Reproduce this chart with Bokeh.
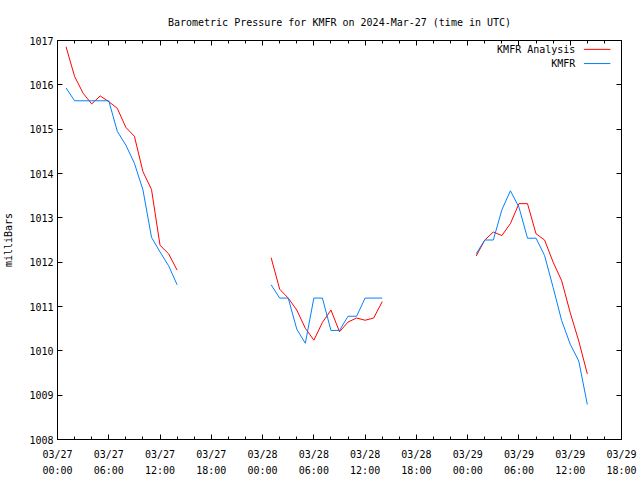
import math
from bokeh.plotting import figure
from bokeh.models import LinearAxis, FixedTicker, Label, Arrow, Range1d
from bokeh.embed import file_html
from bokeh.resources import INLINE

# hours since 2024-03-27 00:00 UTC
hours_seg1 = list(range(1, 15))
hours_seg2 = list(range(25, 39))
hours_seg3 = list(range(49, 63))

analysis_seg1 = [1016.86, 1016.19, 1015.81, 1015.57, 1015.75, 1015.62, 1015.47,
                 1015.04, 1014.84, 1014.04, 1013.64, 1012.38, 1012.19, 1011.82]
analysis_seg2 = [1012.10, 1011.39, 1011.19, 1010.92, 1010.51, 1010.24, 1010.64,
                 1010.92, 1010.43, 1010.65, 1010.74, 1010.69, 1010.74, 1011.11]
analysis_seg3 = [1012.14, 1012.50, 1012.68, 1012.60, 1012.87, 1013.32, 1013.32,
                 1012.64, 1012.50, 1012.00, 1011.58, 1010.86, 1010.22, 1009.48]

obs_seg1 = [1015.93, 1015.64, 1015.64, 1015.64, 1015.64, 1015.64, 1014.95,
            1014.64, 1014.23, 1013.63, 1012.56, 1012.23, 1011.92, 1011.49]
obs_seg2 = [1011.49, 1011.19, 1011.19, 1010.49, 1010.17, 1011.19, 1011.19,
            1010.46, 1010.46, 1010.78, 1010.78, 1011.19, 1011.19, 1011.19]
obs_seg3 = [1012.19, 1012.50, 1012.50, 1013.18, 1013.61, 1013.24, 1012.54,
            1012.54, 1012.15, 1011.43, 1010.68, 1010.15, 1009.77, 1008.79]

tick_hours = list(range(0, 67, 6))
tick_labels = ["03/27\n00:00", "03/27\n06:00", "03/27\n12:00", "03/27\n18:00",
               "03/28\n00:00", "03/28\n06:00", "03/28\n12:00", "03/28\n18:00",
               "03/29\n00:00", "03/29\n06:00", "03/29\n12:00", "03/29\n18:00"]
y_ticks = list(range(1008, 1018))

title_text = "Barometric Pressure for KMFR on 2024-Mar-27 (time in UTC)"
series_names = ["KMFR Analysis", "KMFR"]
series_colors = ["#ff0000", "#0080ff"]

FONT = "DejaVu Sans Mono"
FS = "10px"


def join(segs):
    out = []
    for i, s in enumerate(segs):
        if i:
            out.append(float("nan"))
        out.extend(s)
    return out


hx = join([hours_seg1, hours_seg2, hours_seg3])
ana = join([analysis_seg1, analysis_seg2, analysis_seg3])
obs = join([obs_seg1, obs_seg2, obs_seg3])

p = figure(width=640, height=480, output_backend="svg", toolbar_location=None,
           x_range=Range1d(0, 66), y_range=Range1d(1008, 1017),
           x_axis_location=None, y_axis_location=None,
           min_border_left=57, min_border_right=19, min_border_top=40,
           min_border_bottom=41)
p.title.text = title_text
p.title.align = "center"
p.title.text_font = FONT
p.title.text_font_size = FS
p.title.text_font_style = "normal"
p.title.text_color = "black"
p.title.standoff = 25
p.grid.visible = False
p.outline_line_color = "black"
p.outline_line_width = 1
p.background_fill_color = "white"
p.border_fill_color = "white"


def style(ax, labels=True):
    ax.axis_line_color = "black"
    ax.major_tick_in = 5
    ax.major_tick_out = 0
    ax.minor_tick_in = 3
    ax.minor_tick_out = 0
    ax.major_tick_line_color = "black"
    ax.minor_tick_line_color = "black"
    ax.major_label_text_font = FONT
    ax.major_label_text_font_size = FS if labels else "0px"
    ax.major_label_text_color = "black"
    ax.axis_label_text_font = FONT
    ax.axis_label_text_font_size = FS
    ax.axis_label_text_font_style = "normal"
    ax.axis_label_text_color = "black"
    if not labels:
        ax.major_label_standoff = 0


xt = FixedTicker(ticks=tick_hours, minor_ticks=list(range(0, 67, 2)))
yt = FixedTicker(ticks=y_ticks, minor_ticks=[])
overrides = {h: lab for h, lab in zip(tick_hours, tick_labels)}

xb = LinearAxis(ticker=xt, major_label_overrides=overrides)
style(xb)
xb.major_label_standoff = 9
xb.major_label_text_line_height = 1.5
p.add_layout(xb, "below")

xa = LinearAxis(ticker=xt, major_label_overrides={h: "" for h in tick_hours})
style(xa, labels=False)
p.add_layout(xa, "above")

yl = LinearAxis(ticker=yt, axis_label="milliBars")
style(yl)
yl.major_label_standoff = 4
yl.axis_label_standoff = 12
p.add_layout(yl, "left")

yr = LinearAxis(ticker=yt, major_label_overrides={v: "" for v in y_ticks})
style(yr, labels=False)
p.add_layout(yr, "right")

p.line(hx, ana, line_color=series_colors[0], line_width=1)
p.line(hx, obs, line_color=series_colors[1], line_width=1)

# gnuplot-style key (text right-aligned, sample line to its right)
key_y = [1016.8, 1016.48]
for name, col, ky in zip(series_names, series_colors, key_y):
    p.add_layout(Label(x=60.6, y=ky, text=name, text_align="right",
                       text_baseline="middle", text_font=FONT,
                       text_font_size=FS, text_color="black"))
    p.add_layout(Arrow(x_start=61.6, y_start=ky, x_end=64.7, y_end=ky,
                       end=None, line_color=col, line_width=1))

open("out.html", "w").write(file_html(p, INLINE))
